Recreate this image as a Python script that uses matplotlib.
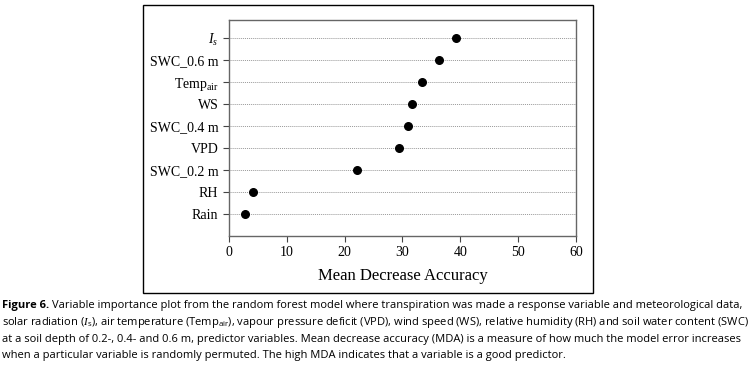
import matplotlib.pyplot as plt
from matplotlib.patches import Rectangle

plt.rcParams['mathtext.fontset'] = 'custom'
plt.rcParams['mathtext.rm'] = 'Liberation Serif'
plt.rcParams['mathtext.it'] = 'Liberation Serif:italic'
plt.rcParams['mathtext.sf'] = 'Open Sans'

# variable importance (mean decrease accuracy), bottom to top
variables = ['Rain', 'RH', 'SWC_0.2 m', 'VPD', 'SWC_0.4 m', 'WS',
             r'Temp$_\mathrm{air}$', 'SWC_0.6 m', r'$\mathit{I}_\mathit{s}$']
mda = [2.8, 4.2, 22.2, 29.4, 31.0, 31.6, 33.3, 36.3, 39.3]
xticks = [0, 10, 20, 30, 40, 50, 60]

fig = plt.figure(figsize=(7.48, 3.67), dpi=100)

# outer frame around the chart
fig.patches.append(Rectangle((0.191, 0.2016), 0.602, 0.7844, transform=fig.transFigure,
                             fill=False, edgecolor='black', linewidth=1.0))

ax = fig.add_axes([0.306, 0.357, 0.464, 0.5885])
pos = list(range(1, len(variables) + 1))
for p in pos:
    ax.axhline(p, color='#999999', linestyle=(0, (1, 1)), linewidth=0.7, zorder=1)
ax.scatter(mda, pos, s=30, color='black', zorder=3)

ax.set_xlim(0, 60)
ax.set_ylim(0, 9.82)
ax.set_xticks(xticks)
ax.set_yticks(pos)
ax.set_yticklabels(variables)
for s in ax.spines.values():
    s.set_color('#666666')
    s.set_linewidth(1.0)
ax.tick_params(colors='#444444', labelcolor='black', length=4, width=0.8)
for lbl in ax.get_xticklabels() + ax.get_yticklabels():
    lbl.set_fontfamily('Liberation Serif')
    lbl.set_fontsize(10)
ax.set_xlabel('Mean Decrease Accuracy', fontfamily='Liberation Serif', fontsize=12, labelpad=6)

cap_font = dict(fontfamily='Open Sans', fontsize=8, ha='left', va='baseline')
lines = [
    'Variable importance plot from the random forest model where transpiration was made a response variable and meteorological data,',
    r'solar radiation ($\mathit{I}_\mathsf{s}$), air temperature (Temp$_\mathsf{air}$), vapour pressure deficit (VPD), wind speed (WS), relative humidity (RH) and soil water content (SWC)',
    'at a soil depth of 0.2-, 0.4- and 0.6 m, predictor variables. Mean decrease accuracy (MDA) is a measure of how much the model error increases',
    'when a particular variable is randomly permuted. The high MDA indicates that a variable is a good predictor.',
]
t = fig.text(0.003, 1 - 308 / 367, 'Figure 6.', fontweight='bold', **cap_font)
fig.canvas.draw()
bb = t.get_window_extent()
fig.text((bb.x1 + 3) / 748, 1 - 308 / 367, lines[0], **cap_font)
for i, ln in enumerate(lines[1:]):
    fig.text(0.003, 1 - (325 + 16.7 * i) / 367, ln, **cap_font)

fig.savefig('out.png', dpi=100)
